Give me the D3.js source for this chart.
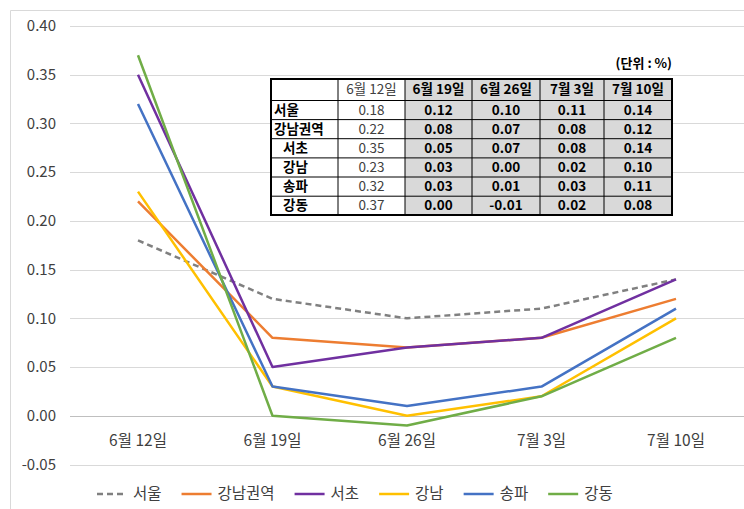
<!DOCTYPE html>
<html><head><meta charset="utf-8">
<script src="https://cdn.jsdelivr.net/npm/d3@7"></script>
<style>
html,body{margin:0;padding:0;background:#fff;}
svg{display:block;}
text{font-family:"Noto Sans CJK KR","Noto Sans",sans-serif;}
</style></head>
<body>
<svg id="chart" width="744" height="509"></svg>
<script>
const categories = ["6월 12일","6월 19일","6월 26일","7월 3일","7월 10일"];
const seriesNames = ["서울","강남권역","서초","강남","송파","강동"];
const seoul   = [0.18,0.12,0.10,0.11,0.14];
const gangnamArea = [0.22,0.08,0.07,0.08,0.12];
const seocho  = [0.35,0.05,0.07,0.08,0.14];
const gangnam = [0.23,0.03,0.00,0.02,0.10];
const songpa  = [0.32,0.03,0.01,0.03,0.11];
const gangdong= [0.37,0.00,-0.01,0.02,0.08];
const yTicks = [-0.05,0,0.05,0.10,0.15,0.20,0.25,0.30,0.35,0.40];
const tableRowLabels = ["서울","강남권역","서초","강남","송파","강동"];

const seriesValues = [seoul,gangnamArea,seocho,gangnam,songpa,gangdong];
const colors = ["#808080","#ED7D31","#7030A0","#FFC000","#4472C4","#70AD47"];
const fmt = v => d3.format(".2f")(v).replace("\u2212","-");

const svg = d3.select("#chart");
svg.append("path").attr("d","M10.5,509 L10.5,10.5 L744,10.5").attr("fill","none").attr("stroke","#d9d9d9");

const x = d3.scalePoint().domain(categories).range([138,676]);
const y = d3.scaleLinear().domain([-0.05,0.40]).range([464.5,26]);

svg.append("g").selectAll("line").data(yTicks).join("line")
  .attr("x1",70).attr("x2",744)
  .attr("y1",d=>Math.round(y(d))+0.5).attr("y2",d=>Math.round(y(d))+0.5)
  .attr("stroke",d=>d===0?"#bfbfbf":"#d9d9d9").attr("stroke-width",1);

svg.append("g").selectAll("text").data(yTicks).join("text")
  .attr("x",56).attr("y",d=>y(d)).attr("dy","0.35em")
  .attr("text-anchor","end").attr("font-size",15).attr("fill","#404040")
  .text(d=>fmt(d));

svg.append("g").selectAll("text").data(categories).join("text")
  .attr("x",d=>x(d)).attr("y",441).attr("dy","0.35em")
  .attr("text-anchor","middle").attr("font-size",15.5).attr("fill","#404040")
  .text(d=>d);

const line = d3.line().x((d,i)=>x(categories[i])).y(d=>y(d));
svg.append("g").selectAll("path").data(d3.range(seriesValues.length)).join("path")
  .attr("d",i=>line(seriesValues[i]))
  .attr("fill","none").attr("stroke",i=>colors[i]).attr("stroke-width",2.5)
  .attr("stroke-dasharray",i=>i===0?"6,4":null)
  .attr("stroke-linejoin","round");

// table
const colX = [271,338,405,472,540,604,672];
const rowY = [79,100.5,119.6,138.7,157.9,177,196.2,215];
const tg = svg.append("g");
tg.append("rect").attr("x",colX[0]).attr("y",rowY[0]).attr("width",colX[6]-colX[0]).attr("height",rowY[7]-rowY[0]).attr("fill","#fff");
tg.append("rect").attr("x",colX[2]).attr("y",rowY[0]).attr("width",colX[6]-colX[2]).attr("height",rowY[7]-rowY[0]).attr("fill","#d9d9d9");
colX.slice(1,6).forEach(cx=>tg.append("line").attr("x1",cx).attr("x2",cx).attr("y1",rowY[0]).attr("y2",rowY[7]).attr("stroke","#000").attr("stroke-width",1));
rowY.slice(1,7).forEach(ry=>tg.append("line").attr("x1",colX[0]).attr("x2",colX[6]).attr("y1",ry).attr("y2",ry).attr("stroke","#000").attr("stroke-width",1));
tg.append("rect").attr("x",colX[0]).attr("y",rowY[0]).attr("width",colX[6]-colX[0]).attr("height",rowY[7]-rowY[0]).attr("fill","none").attr("stroke","#000").attr("stroke-width",2);
categories.forEach((c,j)=>{
  tg.append("text").attr("x",(colX[j+1]+colX[j+2])/2).attr("y",(rowY[0]+rowY[1])/2).attr("dy","0.35em")
    .attr("text-anchor","middle").attr("font-size",13.5).attr("font-weight",j===0?"normal":"bold")
    .attr("fill",j===0?"#404040":"#000").text(c);
});
tableRowLabels.forEach((r,i)=>{
  const cy=(rowY[i+1]+rowY[i+2])/2;
  tg.append("text").attr("x",colX[0]+(i<2?3:12)).attr("y",cy).attr("dy","0.35em")
    .attr("font-size",13.5).attr("font-weight","bold").attr("fill","#000").text(r);
  seriesValues[i].forEach((v,j)=>{
    tg.append("text").attr("x",(colX[j+1]+colX[j+2])/2).attr("y",cy).attr("dy","0.35em")
      .attr("text-anchor","middle").attr("font-size",13.5).attr("font-weight",j===0?"normal":"bold")
      .attr("fill",j===0?"#404040":"#000").text(fmt(v));
  });
});
svg.append("text").attr("x",672).attr("y",63).attr("dy","0.35em").attr("text-anchor","end")
  .attr("font-size",13).attr("font-weight","bold").attr("fill","#000").text("(단위 : %)");

// legend
const lg = svg.append("g");
let lx = 97;
seriesNames.forEach((n,i)=>{
  lg.append("line").attr("x1",lx).attr("x2",lx+30).attr("y1",494).attr("y2",494)
    .attr("stroke",colors[i]).attr("stroke-width",2.5).attr("stroke-dasharray",i===0?"6,4":null);
  const t = lg.append("text").attr("x",lx+36).attr("y",494).attr("dy","0.35em")
    .attr("font-size",15.5).attr("fill","#404040").text(n);
  lx += 36 + t.node().getComputedTextLength() + 20;
});
</script>
</body></html>
